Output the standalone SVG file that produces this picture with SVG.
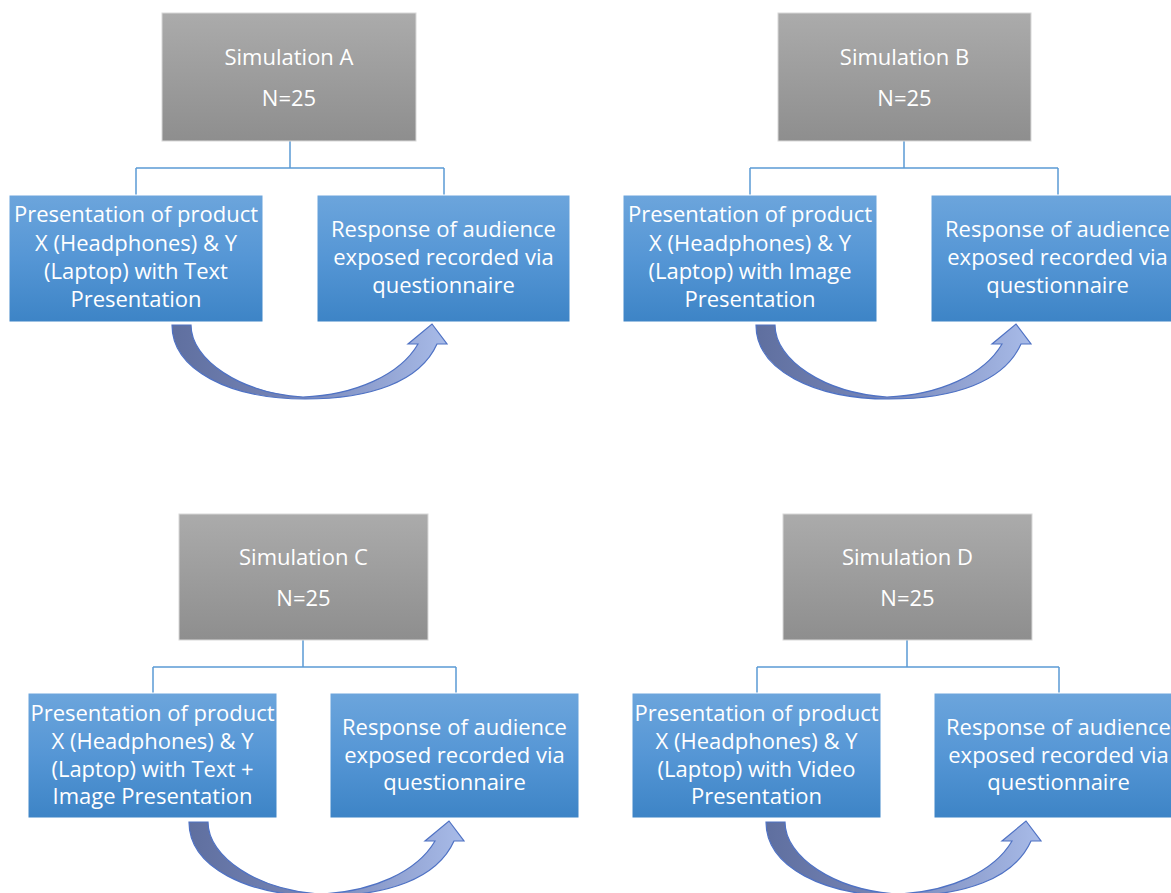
<svg xmlns="http://www.w3.org/2000/svg" width="1171" height="893" viewBox="0 0 1171 893">
<defs>
<linearGradient id="gBlue" x1="0" y1="0" x2="0" y2="1">
<stop offset="0" stop-color="#6ca5dc"/>
<stop offset="0.5" stop-color="#5596d5"/>
<stop offset="1" stop-color="#3d84c6"/>
</linearGradient>
<linearGradient id="gGray" x1="0" y1="0" x2="0" y2="1">
<stop offset="0" stop-color="#ababab"/>
<stop offset="1" stop-color="#8e8e8e"/>
</linearGradient>
<linearGradient id="gArrow" x1="0" y1="0" x2="1" y2="0">
<stop offset="0" stop-color="#5f6f9f"/>
<stop offset="0.45" stop-color="#7786b8"/>
<stop offset="1" stop-color="#a8bbe8"/>
</linearGradient>
<path id="curvedArrow" d="M172,325 L191,325 C191,360 240,393 303,397 C355,395 400,375 418,344 L408,344 L432,324 L447,344 L437,344 C420,382 370,399 305,399 C230,399 172,370 172,325 Z"/>
</defs>
<style>
.blue{fill:url(#gBlue);stroke:#ffffff;stroke-width:1}
.gray{fill:url(#gGray);stroke:#d8d8d8;stroke-width:1}
.t{font-family:"Open Sans","Liberation Sans",sans-serif;font-size:22px;font-weight:500;fill:#ffffff;text-anchor:middle}
.conn{fill:none;stroke:#5b9bd5;stroke-width:1.5}
.arrow{fill:url(#gArrow);stroke:#4f72c4;stroke-width:1.2}
</style>
<rect width="1171" height="893" fill="#ffffff"/>

<g id="connectors">
<path class="conn" d="M290,141 V168 M136,168 H444 M136,168 V195 M444,168 V195"/>
<path class="conn" d="M904,141 V168 M750,168 H1058 M750,168 V195 M1058,168 V195"/>
<path class="conn" d="M303,640 V667 M153,667 H456 M153,667 V693 M456,667 V693"/>
<path class="conn" d="M907,640 V667 M757,667 H1059 M757,667 V693 M1059,667 V693"/>
<use href="#curvedArrow" class="arrow"/>
<use href="#curvedArrow" class="arrow" transform="translate(584,0)"/>
<use href="#curvedArrow" class="arrow" transform="translate(17,497)"/>
<use href="#curvedArrow" class="arrow" transform="translate(594,497)"/>
</g>

<g id="simA">
<rect class="gray" x="162" y="13" width="254" height="128"/>
<text class="t" x="289" y="65">Simulation A</text>
<text class="t" x="289" y="106">N=25</text>
</g>
<g id="presA">
<rect class="blue" x="9" y="195" width="254" height="127"/>
<text class="t" x="136" y="222">Presentation of product</text>
<text class="t" x="136" y="251">X (Headphones) &amp; Y</text>
<text class="t" x="136" y="279">(Laptop) with Text</text>
<text class="t" x="136" y="307">Presentation</text>
</g>
<g id="respA">
<rect class="blue" x="317" y="195" width="253" height="127"/>
<text class="t" x="443.5" y="237">Response of audience</text>
<text class="t" x="443.5" y="265">exposed recorded via</text>
<text class="t" x="443.5" y="293">questionnaire</text>
</g>

<g id="simB">
<rect class="gray" x="778" y="13" width="253" height="128"/>
<text class="t" x="904.5" y="65">Simulation B</text>
<text class="t" x="904.5" y="106">N=25</text>
</g>
<g id="presB">
<rect class="blue" x="623" y="195" width="254" height="127"/>
<text class="t" x="750" y="222">Presentation of product</text>
<text class="t" x="750" y="251">X (Headphones) &amp; Y</text>
<text class="t" x="750" y="279">(Laptop) with Image</text>
<text class="t" x="750" y="307">Presentation</text>
</g>
<g id="respB">
<rect class="blue" x="931" y="195" width="253" height="127"/>
<text class="t" x="1057.5" y="237">Response of audience</text>
<text class="t" x="1057.5" y="265">exposed recorded via</text>
<text class="t" x="1057.5" y="293">questionnaire</text>
</g>

<g id="simC">
<rect class="gray" x="179" y="514" width="249" height="126"/>
<text class="t" x="303.5" y="565">Simulation C</text>
<text class="t" x="303.5" y="606">N=25</text>
</g>
<g id="presC">
<rect class="blue" x="28" y="693" width="249" height="125"/>
<text class="t" x="152.5" y="721">Presentation of product</text>
<text class="t" x="152.5" y="749">X (Headphones) &amp; Y</text>
<text class="t" x="152.5" y="777">(Laptop) with Text +</text>
<text class="t" x="152.5" y="804">Image Presentation</text>
</g>
<g id="respC">
<rect class="blue" x="330" y="693" width="249" height="125"/>
<text class="t" x="454.5" y="735">Response of audience</text>
<text class="t" x="454.5" y="763">exposed recorded via</text>
<text class="t" x="454.5" y="790">questionnaire</text>
</g>

<g id="simD">
<rect class="gray" x="783" y="514" width="249" height="126"/>
<text class="t" x="907.5" y="565">Simulation D</text>
<text class="t" x="907.5" y="606">N=25</text>
</g>
<g id="presD">
<rect class="blue" x="632" y="693" width="249" height="125"/>
<text class="t" x="756.5" y="721">Presentation of product</text>
<text class="t" x="756.5" y="749">X (Headphones) &amp; Y</text>
<text class="t" x="756.5" y="777">(Laptop) with Video</text>
<text class="t" x="756.5" y="804">Presentation</text>
</g>
<g id="respD">
<rect class="blue" x="934" y="693" width="249" height="125"/>
<text class="t" x="1058.5" y="735">Response of audience</text>
<text class="t" x="1058.5" y="763">exposed recorded via</text>
<text class="t" x="1058.5" y="790">questionnaire</text>
</g>
</svg>
